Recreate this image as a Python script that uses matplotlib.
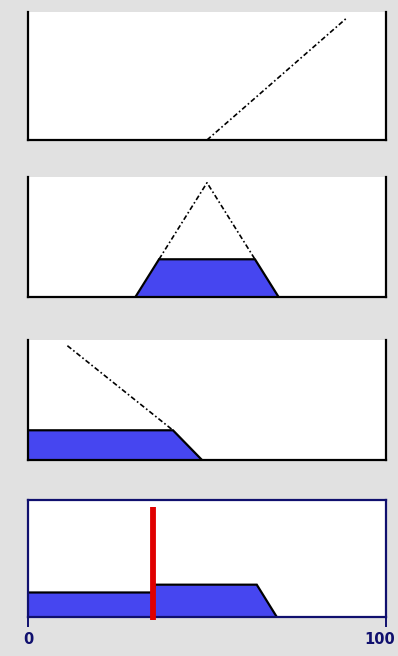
import numpy as np
import matplotlib.pyplot as plt
import matplotlib.transforms as mtransforms

# output variable range
x_lim = [0, 100]
y_lim = [0, 1.05]

# rule 1: output mf, not fired
rule1_dash_x = [50, 89]
rule1_dash_y = [0.0, 1.0]

# rule 2: triangle clipped at its firing level
rule2_dash_x = [36.6, 50, 63.4]
rule2_dash_y = [0.33, 1.0, 0.33]
rule2_fill_x = [30, 36.6, 63.4, 70]
rule2_fill_y = [0.0, 0.33, 0.33, 0.0]

# rule 3: falling ramp clipped at its firing level
rule3_dash_x = [11, 40.5]
rule3_dash_y = [1.0, 0.26]
rule3_fill_x = [0, 40.5, 48.6]
rule3_fill_y = [0.26, 0.26, 0.0]

# aggregated output and defuzzified value
agg_fill_x = [0, 35, 35.5, 63.9, 69.5]
agg_fill_y = [0.22, 0.22, 0.29, 0.29, 0.0]
centroid = 35

tick_vals = [0, 100]
tick_labels = ["0", "100"]

W, H = 398, 656
bg = "#e1e1e1"
fill_c = "#4646f0"
navy = "#10106e"

fig = plt.figure(figsize=(W / 100, H / 100), dpi=100, facecolor=bg)


def add_panel(top, bottom, left=28, right=386):
    ax = fig.add_axes([left / W, 1 - bottom / H, (right - left) / W, (bottom - top) / H])
    ax.set_xlim(x_lim)
    ax.set_ylim(y_lim)
    ax.set_facecolor("white")
    ax.set_xticks([])
    ax.set_yticks([])
    return ax


def rule_panel(ax):
    ax.spines["top"].set_visible(False)
    for s in ["left", "right", "bottom"]:
        ax.spines[s].set_color("black")
        ax.spines[s].set_linewidth(1.6)


def draw_fill(ax, xs, ys):
    ax.fill_between(xs, ys, 0, color=fill_c, lw=0)
    ax.plot(xs, ys, color="black", lw=1.6, solid_joinstyle="miter")


dash = (0, (3, 1.5, 1, 1.5))

ax1 = add_panel(12, 140)
rule_panel(ax1)
ax1.plot(rule1_dash_x, rule1_dash_y, color="black", lw=1.2, ls=dash)

ax2 = add_panel(177, 297)
rule_panel(ax2)
draw_fill(ax2, rule2_fill_x, rule2_fill_y)
ax2.plot(rule2_dash_x, rule2_dash_y, color="black", lw=1.2, ls=dash)

ax3 = add_panel(340, 460)
rule_panel(ax3)
draw_fill(ax3, rule3_fill_x, rule3_fill_y)
ax3.plot(rule3_dash_x, rule3_dash_y, color="black", lw=1.2, ls=dash)

ax4 = add_panel(500, 617)
for s in ax4.spines.values():
    s.set_color(navy)
    s.set_linewidth(1.6)
draw_fill(ax4, agg_fill_x, agg_fill_y)
ax4.plot([centroid, centroid], [-0.03, 0.985], color="#e00000", lw=4.2,
         solid_capstyle="butt", clip_on=False, zorder=5)
ax4.set_xticks(tick_vals)
ax4.set_xticklabels(tick_labels, color=navy, fontsize=10.5, fontweight="bold")
ax4.tick_params(axis="x", direction="out", length=7, width=1.4, color=navy, pad=4)

# keep the right-hand label inside the figure edge
last = ax4.get_xticklabels()[-1]
last.set_transform(last.get_transform()
                   + mtransforms.ScaledTranslation(-6 / 100, 0, fig.dpi_scale_trans))

fig.savefig("out.png", dpi=100, facecolor=bg)
